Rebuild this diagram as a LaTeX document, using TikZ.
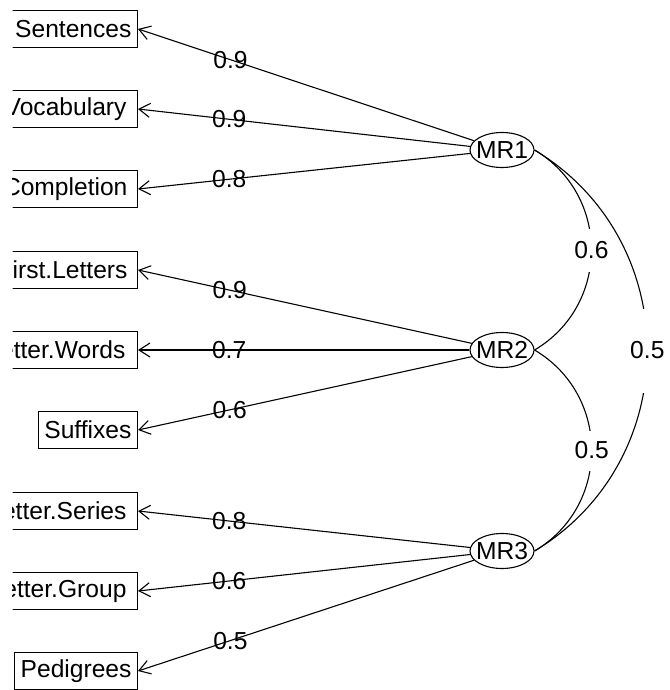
\documentclass[tikz,border=0pt]{standalone}
\usepackage{fontspec}
\setmainfont{Liberation Sans}
\usetikzlibrary{shapes.geometric,arrows.meta}
\begin{document}
\begin{tikzpicture}[x=1pt,y=1pt,
  every node/.style={font=\fontsize{24.6}{29}\selectfont},
  var/.style={draw, line width=1.1pt, rectangle, anchor=east, inner xsep=6pt, inner ysep=0pt, minimum height=37pt},
  fac/.style={draw, line width=1.1pt, ellipse, minimum width=64pt, minimum height=35pt, inner sep=0pt},
  load/.style={line width=1.1pt, -{Straight Barb[length=11pt,width=14pt]}},
  corr/.style={line width=1.1pt},
  lab/.style={inner sep=0pt, pos=0.725},
  clab/.style={fill=white, inner xsep=1pt, inner ysep=0pt}
]
\useasboundingbox (0,0) rectangle (669,-690);
\clip (12.7,1) rectangle (670,-691);
% observed variables
\node[var] (v1) at (138,-29) {Sentences};
\node[var] (v2) at (138,-109) {Vocabulary\kern5pt};
\node[var] (v3) at (138,-189) {Completion\kern4pt};
\node[var] (v4) at (138,-270) {First.Letters\kern4pt};
\node[var] (v5) at (138,-350) {Letter.Words\kern6pt};
\node[var] (v6) at (138,-430) {Suffixes};
\node[var] (v7) at (138,-511) {Letter.Series\kern5pt};
\node[var] (v8) at (138,-591) {Letter.Group\kern5pt};
\node[var] (v9) at (138,-671) {Pedigrees};
% factors
\node[fac] (mr1) at (502,-150) {\makebox[0pt]{MR1}};
\node[fac] (mr2) at (502,-350) {\makebox[0pt]{MR2}};
\node[fac] (mr3) at (502,-551) {\makebox[0pt]{MR3}};
% loadings
\draw[load] (mr1) -- (v1.east) node[lab] {0.9};
\draw[load] (mr1) -- (v2.east) node[lab] {0.9};
\draw[load] (mr1) -- (v3.east) node[lab] {0.8};
\draw[load] (mr2) -- (v4.east) node[lab] {0.9};
\draw[load] (mr2) -- (v5.east) node[lab] {0.7};
\draw[load] (mr2) -- (v6.east) node[lab] {0.6};
\draw[load] (mr3) -- (v7.east) node[lab] {0.8};
\draw[load] (mr3) -- (v8.east) node[lab] {0.6};
\draw[load] (mr3) -- (v9.east) node[lab] {0.5};
% factor correlations
\draw[corr] (mr1.east) to[out=-30.6, in=30.6, looseness=1.129] node[clab, minimum height=43pt] {0.6} (mr2.east);
\draw[corr] (mr2.east) to[out=-30.6, in=30.6, looseness=1.129] node[clab, minimum height=40pt] {0.5} (mr3.east);
\draw[corr] (mr1.east) to[out=-31.1, in=31.1, looseness=1.123] node[clab, minimum height=84pt] {0.5} (mr3.east);
\end{tikzpicture}
\end{document}
